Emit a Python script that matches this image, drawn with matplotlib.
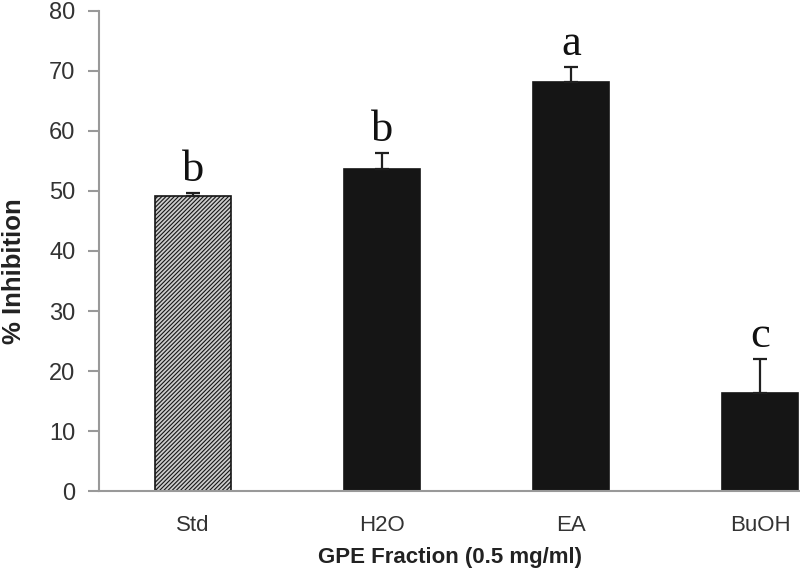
import matplotlib
matplotlib.use("Agg")
from matplotlib import pyplot as plt

# data
fractions = ['Std', 'H2O', 'EA', 'BuOH']
inhibition = [49.2, 53.6, 68.2, 16.3]
err_upper = [0.5, 2.7, 2.5, 5.7]
letters = ['b', 'b', 'a', 'c']

plt.rcParams['hatch.linewidth'] = 0.8
plt.rcParams['hatch.color'] = '#555555'

fig = plt.figure(figsize=(8, 5.77), dpi=100)
ax = fig.add_axes([0.124, 0.149, 0.876, 0.832])

x = list(range(len(fractions)))
colors = ['#cccccc', '#151515', '#151515', '#151515']
bars = ax.bar(x, inhibition, width=0.4, color=colors, edgecolor='#151515',
              linewidth=1.2, zorder=2)
bars[0].set_hatch('////////')

ax.errorbar(x, inhibition, yerr=[[0] * len(x), err_upper], fmt='none',
            ecolor='#202020', elinewidth=1.6, capsize=5, capthick=1.6, zorder=3)

for xi, v, e, lab in zip(x, inhibition, err_upper, letters):
    ax.text(xi, v + e + 0.5, lab, ha='center', va='bottom',
            family='Liberation Serif', fontsize=32, color='#111111')

ax.set_xlim(-0.497, 3.21)
ax.set_ylim(0, 80)
ax.set_yticks(range(0, 81, 10))
ax.set_xticks(x)
ax.set_xticklabels(fractions)

for side in ['top', 'right']:
    ax.spines[side].set_visible(False)
for side in ['left', 'bottom']:
    ax.spines[side].set_color('#999999')
    ax.spines[side].set_linewidth(1.5)

ax.tick_params(axis='y', direction='out', length=8, width=1.5, color='#999999',
               labelsize=17, labelcolor='#333333', pad=9)
ax.tick_params(axis='x', length=0, labelsize=16, labelcolor='#333333', pad=17)
for lbl in ax.get_xticklabels() + ax.get_yticklabels():
    lbl.set_family('Liberation Sans')

ax.set_ylabel('% Inhibition', family='Liberation Sans', fontweight='bold',
              fontsize=18.5, color='#222222')
ax.yaxis.set_label_coords(-0.105, 0.458)
ax.set_xlabel('GPE Fraction (0.5 mg/ml)', family='Liberation Sans',
              fontweight='bold', fontsize=16, color='#222222', labelpad=8)

fig.savefig('out.png', dpi=100)
